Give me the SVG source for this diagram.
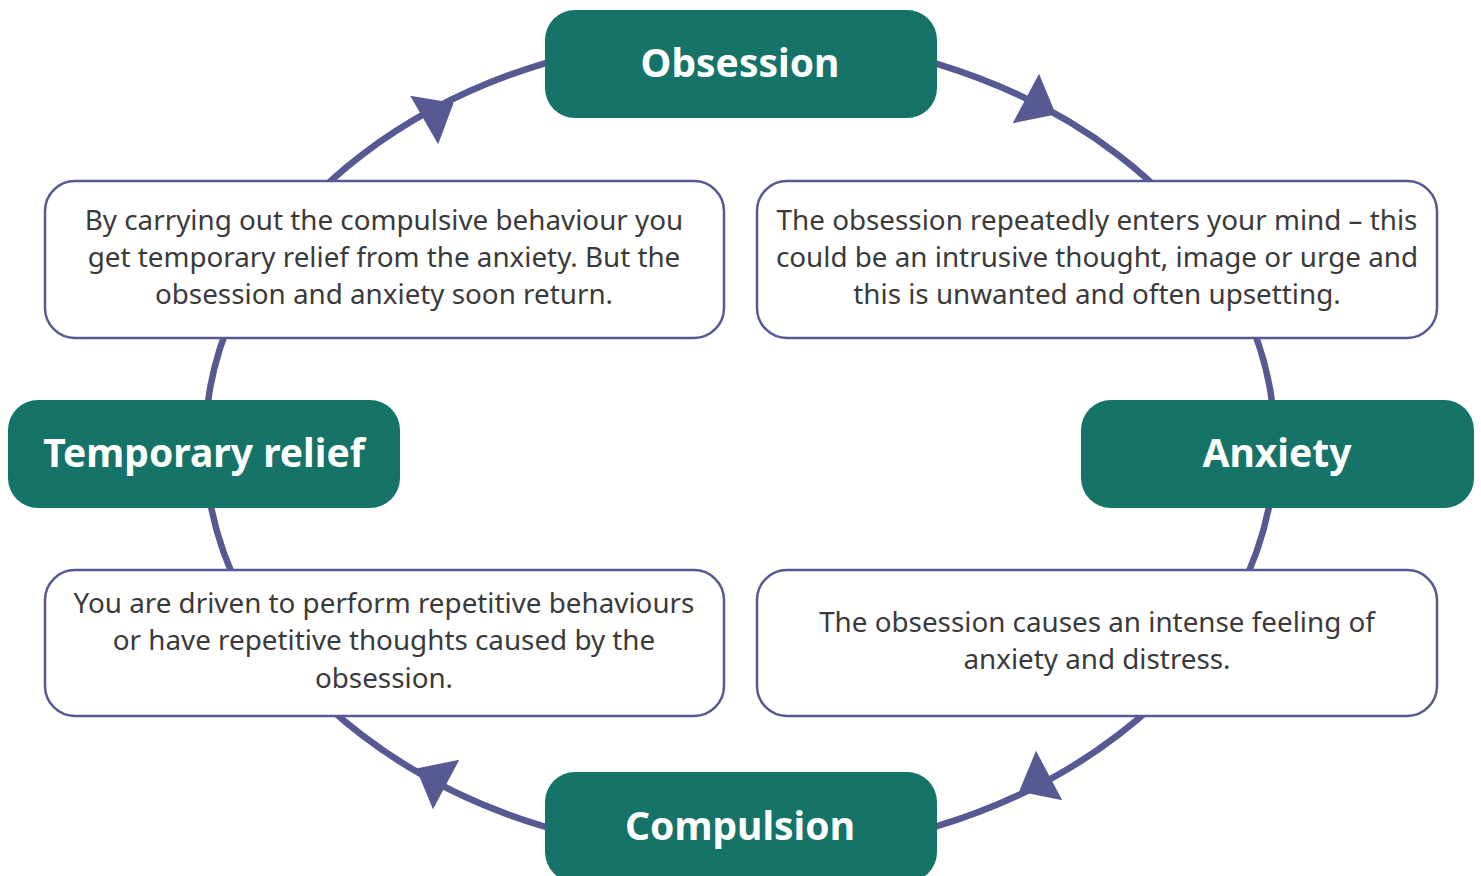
<svg xmlns="http://www.w3.org/2000/svg" width="1481" height="876" viewBox="0 0 1481 876">
<style>
.head{fill:#157367}
.htxt{font-family:"Noto Sans","Open Sans",sans-serif;font-weight:bold;font-size:39px;fill:#ffffff;text-anchor:middle}
.box{fill:#ffffff;stroke:#575a92;stroke-width:2.5}
.btxt{font-family:"Noto Sans","Open Sans",sans-serif;font-size:27.8px;fill:#3a3a3a;text-anchor:middle}
.ring{fill:none;stroke:#575a92;stroke-width:6.5}
.arr{fill:#575a92}
</style>
<defs>
<polygon id="tri" points="18,0 -16,-28 -16,28"/>
</defs>
<g id="connectors">
<ellipse class="ring" cx="740" cy="445" rx="535" ry="410"/>
<use href="#tri" class="arr" transform="translate(1040,106) rotate(28)"/>
<use href="#tri" class="arr" transform="translate(1035,783) rotate(152)"/>
<use href="#tri" class="arr" transform="translate(432,777) rotate(208)"/>
<use href="#tri" class="arr" transform="translate(438,112) rotate(-30)"/>
</g>
<g id="obsession">
<rect class="head" x="545" y="10" width="392" height="108" rx="30"/>
<text class="htxt" x="740" y="77">Obsession</text>
</g>
<g id="anxiety">
<rect class="head" x="1081" y="400" width="393" height="108" rx="30"/>
<text class="htxt" x="1277" y="467">Anxiety</text>
</g>
<g id="compulsion">
<rect class="head" x="545" y="772" width="392" height="110" rx="30"/>
<text class="htxt" x="740" y="840">Compulsion</text>
</g>
<g id="temporary-relief">
<rect class="head" x="8" y="400" width="392" height="108" rx="30"/>
<text class="htxt" x="204" y="467">Temporary relief</text>
</g>
<g id="relief-desc">
<rect class="box" x="45" y="181" width="679" height="157" rx="30"/>
<text class="btxt" x="384" y="230">By carrying out the compulsive behaviour you</text>
<text class="btxt" x="384" y="267">get temporary relief from the anxiety. But the</text>
<text class="btxt" x="384" y="304">obsession and anxiety soon return.</text>
</g>
<g id="obsession-desc">
<rect class="box" x="757" y="181" width="680" height="157" rx="30"/>
<text class="btxt" x="1097" y="230">The obsession repeatedly enters your mind – this</text>
<text class="btxt" x="1097" y="267">could be an intrusive thought, image or urge and</text>
<text class="btxt" x="1097" y="304">this is unwanted and often upsetting.</text>
</g>
<g id="compulsion-desc">
<rect class="box" x="45" y="570" width="679" height="146" rx="30"/>
<text class="btxt" x="384" y="613">You are driven to perform repetitive behaviours</text>
<text class="btxt" x="384" y="650">or have repetitive thoughts caused by the</text>
<text class="btxt" x="384" y="688">obsession.</text>
</g>
<g id="anxiety-desc">
<rect class="box" x="757" y="570" width="680" height="146" rx="30"/>
<text class="btxt" x="1097" y="632">The obsession causes an intense feeling of</text>
<text class="btxt" x="1097" y="669">anxiety and distress.</text>
</g>
</svg>
